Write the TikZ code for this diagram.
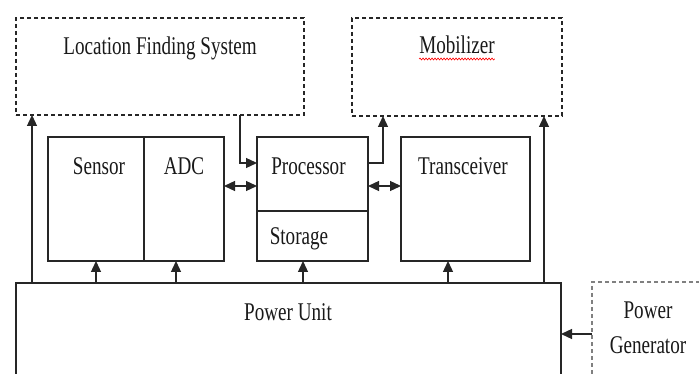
\documentclass[tikz,border=0pt]{standalone}
\usepackage{fontspec}
\setmainfont[FakeStretch=0.75]{Liberation Serif}
\usetikzlibrary{arrows.meta,decorations.pathmorphing}
\begin{document}
\begin{tikzpicture}[x=1pt,y=-1pt,
  ln/.style={line width=1.3pt, draw=black!85},
  box/.style={ln, rectangle, inner sep=0pt, outer sep=0pt},
  dbox/.style={box, dash pattern=on 4pt off 3pt},
  tip/.tip={Triangle[length=11pt,width=10pt]},
  arr/.style={ln, -tip},
  darr/.style={ln, tip-tip},
  txt/.style={font=\fontsize{25.5}{35}\selectfont, inner sep=0pt, anchor=base, text=black!90}]
\useasboundingbox (0,0) rectangle (699,374);
\clip (0,0) rectangle (699,374);
\fill[white] (0,0) rectangle (699,374);
% boxes
\node[dbox, minimum width=288pt, minimum height=97pt] (lfs) at (160,66.5) {};
\node[dbox, minimum width=210pt, minimum height=98pt] (mob) at (457,67) {};
\node[box, minimum width=96pt, minimum height=124pt] (sensor) at (96,199) {};
\node[box, minimum width=80pt, minimum height=124pt] (adc) at (184,199) {};
\node[box, minimum width=111pt, minimum height=124pt] (proc) at (312.5,199) {};
\node[box, minimum width=129pt, minimum height=124pt] (trans) at (465.5,199) {};
\node[box, minimum width=545pt, minimum height=117pt] (power) at (288.5,341.5) {};
\node[dbox, draw=black!50, minimum width=128pt, minimum height=118pt] (gen) at (656,341) {};
\draw[ln] ([yshift=-74pt]proc.north west) -- ([yshift=-74pt]proc.north east);
% texts
\node[txt] (tlfs) at (160,55) {Location Finding System};
\node[txt] (tmob) at (457,54) {Mobilizer};
\node[txt] (tsen) at (99,175) {Sensor};
\node[txt] (tadc) at (184,175) {ADC};
\node[txt] (tproc) at (308.5,175) {Processor};
\node[txt] (ttrans) at (463,175) {Transceiver};
\node[txt] (tsto) at (299,245) {Storage};
\node[txt] (tpow) at (288,320) {Power Unit};
\node[txt, anchor=center, align=center] (tgen) at (648,328) {Power\\Generator};
\draw[red, line width=0.6pt, decorate, decoration={snake, amplitude=1pt, segment length=3pt}]
  ([yshift=-5pt]tmob.base west) -- ([yshift=-5pt]tmob.base east);
% connectors
\draw[arr] ([xshift=16pt]power.north west) -- ([xshift=16pt]lfs.south west);
\draw[arr] ([xshift=-17pt]power.north east) -- ([xshift=-17pt]power.north east |- mob.south);
\draw[arr] ([xshift=-64pt]lfs.south east) |- ([yshift=-26pt]proc.north west);
\draw[arr] ([yshift=-26pt]proc.north east) -| ([xshift=31pt]mob.south west);
\draw[darr] ([yshift=-49pt]adc.north east) -- ([yshift=-49pt]proc.north west);
\draw[darr] ([yshift=-49pt]proc.north east) -- ([yshift=-49pt]trans.north west);
\draw[arr] (sensor.south |- power.north) -- (sensor.south);
\draw[arr] ([xshift=-8pt]adc.south |- power.north) -- ([xshift=-8pt]adc.south);
\draw[arr] ([xshift=-9.5pt]proc.south |- power.north) -- ([xshift=-9.5pt]proc.south);
\draw[arr] ([xshift=-17.5pt]trans.south |- power.north) -- ([xshift=-17.5pt]trans.south);
\draw[arr] ([yshift=7pt]gen.west) -- ([yshift=7pt]gen.west -| power.east);
\end{tikzpicture}
\end{document}
